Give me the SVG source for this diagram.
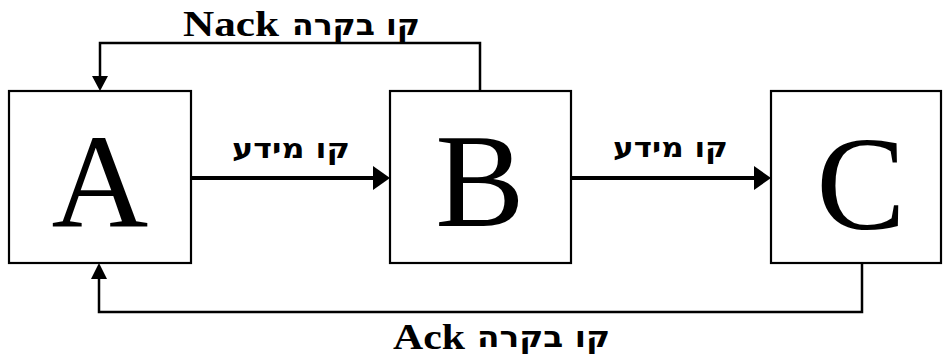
<svg xmlns="http://www.w3.org/2000/svg" width="943" height="358" viewBox="0 0 943 358">
<style>
.box{fill:#fff;stroke:#000;stroke-width:2.2}
.big{font-family:"Liberation Serif","Times New Roman",serif;font-size:134px;fill:#000;text-anchor:middle}
.lbl{font-family:"Liberation Serif","Times New Roman",serif;font-weight:bold;font-size:36px;fill:#000}
.heb{font-family:"DejaVu Sans",sans-serif;font-weight:bold;fill:#000}
.thin{fill:none;stroke:#000;stroke-width:2.5}
.thick{fill:none;stroke:#000;stroke-width:4}
</style>
<rect width="943" height="358" fill="#fff"/>
<g id="node-A"><rect class="box" x="9" y="91" width="182" height="172"/><text class="big" x="100" y="226">A</text></g>
<g id="node-B"><rect class="box" x="390" y="91" width="181" height="172"/><text class="big" x="480" y="226">B</text></g>
<g id="node-C"><rect class="box" x="771" y="91" width="170" height="172"/><text class="big" x="861" y="229">C</text></g>
<g id="connectors">
<polyline class="thin" points="480,91 480,43 100,43 100,78"/>
<polygon points="92,76 108,76 100,91"/>
<polyline class="thin" points="862,263 862,312 99,312 99,277"/>
<polygon points="91,279 107,279 99,263"/>
<line class="thick" x1="191" y1="178" x2="375" y2="178"/>
<polygon points="373,166 373,190 390,178"/>
<line class="thick" x1="571" y1="178" x2="756" y2="178"/>
<polygon points="754,166 754,190 771,178"/>
</g>
<g id="labels">
<text class="lbl" x="183" y="36" textLength="96" lengthAdjust="spacingAndGlyphs">Nack</text>
<text class="heb" x="292" y="35" font-size="30" textLength="128" lengthAdjust="spacingAndGlyphs">קו בקרה</text>
<text class="lbl" x="393" y="349" font-size="37" textLength="72" lengthAdjust="spacingAndGlyphs">Ack</text>
<text class="heb" x="477" y="347" font-size="30" textLength="133" lengthAdjust="spacingAndGlyphs">קו בקרה</text>
<text class="heb" x="232" y="158" font-size="28" textLength="118" lengthAdjust="spacingAndGlyphs">קו מידע</text>
<text class="heb" x="613" y="157" font-size="28" textLength="115" lengthAdjust="spacingAndGlyphs">קו מידע</text>
</g>
</svg>
